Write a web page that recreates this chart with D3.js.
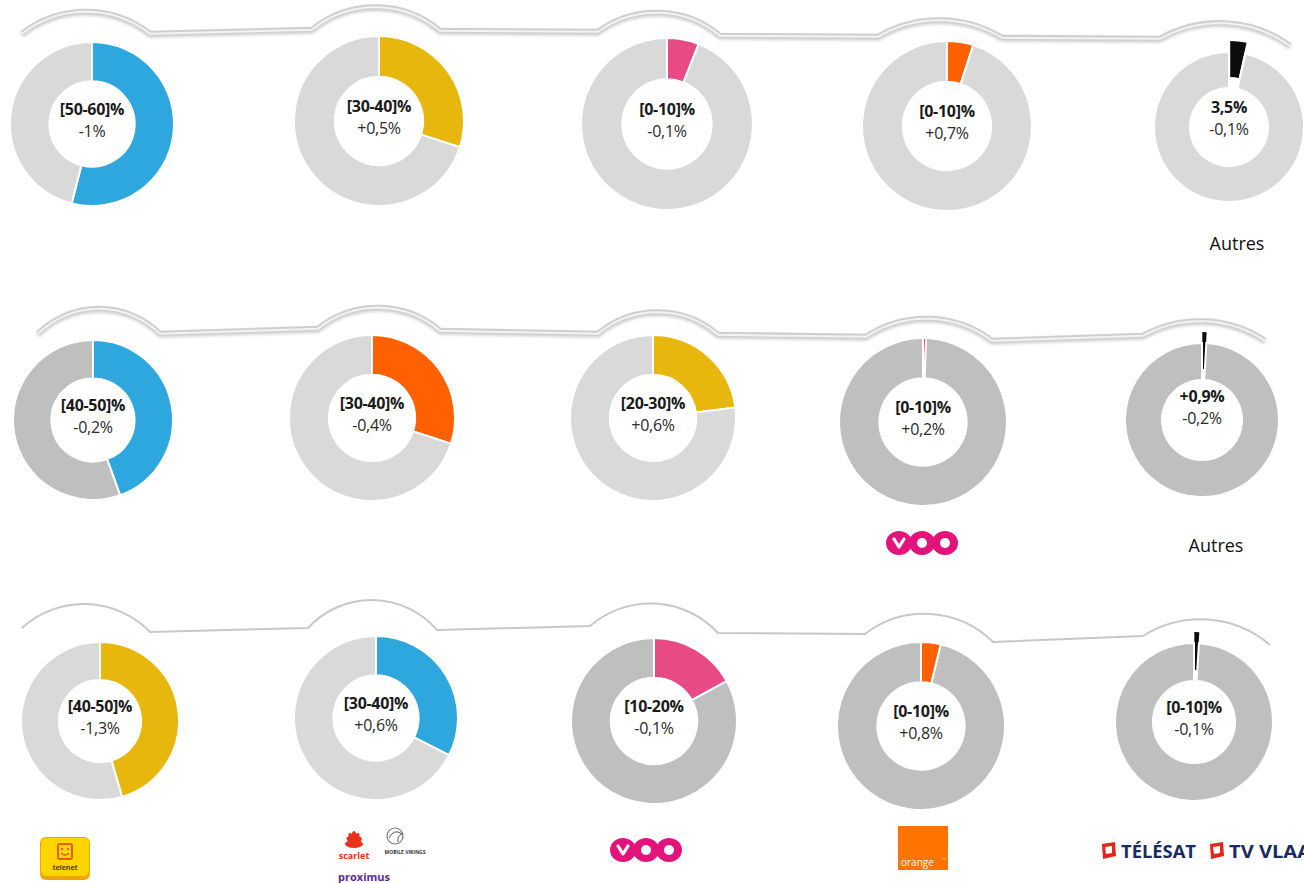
<!DOCTYPE html>
<html>
<head>
<meta charset="utf-8">
<script src="https://cdn.jsdelivr.net/npm/d3@7"></script>
<style>
  body { margin: 0; background: #fff; }
  svg { display: block; font-family: "Open Sans", "Noto Sans", sans-serif; }
</style>
</head>
<body>
<div id="chart-area"></div>
<script>
// market shares per row (5 operators per row)
const sharesRow1 = [54, 30, 6, 5, 3.5];
const sharesRow2 = [44.5, 30, 23, 0.6, 0.9];
const sharesRow3 = [45.5, 32.5, 17, 3.8, 1];

const shareLabels = [
  ['[50-60]%', '[30-40]%', '[0-10]%', '[0-10]%', '3,5%'],
  ['[40-50]%', '[30-40]%', '[20-30]%', '[0-10]%', '+0,9%'],
  ['[40-50]%', '[30-40]%', '[10-20%', '[0-10]%', '[0-10]%']
];
const changeLabels = [
  ['-1%', '+0,5%', '-0,1%', '+0,7%', '-0,1%'],
  ['-0,2%', '-0,4%', '+0,6%', '+0,2%', '-0,2%'],
  ['-1,3%', '+0,6%', '-0,1%', '+0,8%', '-0,1%']
];
const operatorKeys = [
  ['proximus', 'telenet', 'voo', 'orange', 'autres'],
  ['proximus', 'orange', 'telenet', 'voo', 'autres'],
  ['telenet', 'proximus', 'voo', 'orange', 'autres']
];
const restShade = [
  ['light', 'light', 'light', 'light', 'light'],
  ['dark', 'light', 'light', 'dark', 'dark'],
  ['light', 'light', 'dark', 'dark', 'dark']
];

const shares = [sharesRow1, sharesRow2, sharesRow3];

const opColor = {
  telenet: '#e8b70e', proximus: '#2ea6de', voo: '#e84a86',
  orange: '#ff6000', autres: '#0d0d0d'
};
const shadeColor = { light: '#d9d9d9', dark: '#bfbfbf' };

// layout: donut centres and radii (cx, cy, r)
const centers = [
  [[92, 124, 82], [379, 121, 85], [667, 124, 86], [947, 126, 85], [1229, 127, 75]],
  [[93, 420, 80], [372, 418, 83], [653, 418, 83], [923, 422, 84], [1202, 420, 77]],
  [[100, 721, 79], [376, 718, 82], [654, 721, 83], [921, 726, 84], [1194, 722, 79]]
];
// decorative caps above each donut: x0, x1, yLeft, yRight, sagitta
const caps = [
  [[22, 150, 33, 33, 22], [312, 440, 29, 30, 23], [598, 720, 31, 35, 21], [878, 1002, 36, 37, 17], [1160, 1290, 38, 45, 19]],
  [[38, 160, 333, 333, 25], [318, 440, 328, 330, 22], [598, 718, 333, 334, 22], [866, 992, 336, 340, 20], [1143, 1265, 335, 340, 17]],
  [[22, 150, 628, 632, 26], [308, 437, 628, 630, 29], [590, 718, 626, 633, 26], [865, 993, 634, 642, 24], [1143, 1270, 636, 645, 21]]
];
const labelShift = [
  [0, 0, 0, 0, -5],
  [0, 0, 0, 0, -9],
  [0, 0, 0, 0, 0]
];

const W = 1304, H = 883;
const svg = d3.select('#chart-area').append('svg')
  .attr('width', W).attr('height', H);

const defs = svg.append('defs');
defs.append('filter').attr('id', 'shadow')
  .attr('x', '-10%').attr('y', '-50%').attr('width', '120%').attr('height', '200%')
  .append('feGaussianBlur').attr('stdDeviation', 1.6);

const pie = d3.pie().sort(null).value(d => d.v);

// caps and connectors
caps.forEach((row, ri) => {
  const g = svg.append('g');
  let path = '';
  row.forEach((c, i) => {
    const [x0, x1, yl, yr, s] = c;
    const chord = Math.hypot(x1 - x0, yr - yl);
    const R = (chord * chord / 4 + s * s) / (2 * s);
    path += (i > 0 ? 'L' : 'M') + x0 + ',' + yl;
    path += 'A' + R + ',' + R + ' 0 0 1 ' + x1 + ',' + yr;
  });
  if (ri < 2) {
    g.append('path').attr('d', path).attr('fill', 'none')
      .attr('stroke', '#9a9a9a').attr('stroke-width', 5)
      .attr('opacity', 0.5).attr('transform', 'translate(0,2)')
      .attr('filter', 'url(#shadow)');
    g.append('path').attr('d', path).attr('fill', 'none')
      .attr('stroke', '#cfcfcf').attr('stroke-width', 4.5);
    g.append('path').attr('d', path).attr('fill', 'none')
      .attr('stroke', '#f3f3f3').attr('stroke-width', 2)
      .attr('transform', 'translate(0,0.8)');
  } else {
    g.append('path').attr('d', path).attr('fill', 'none')
      .attr('stroke', '#c8c8c8').attr('stroke-width', 2);
  }
});

// donuts
shares.forEach((row, ri) => {
  row.forEach((v, ci) => {
    const [cx, cy, r] = centers[ri][ci];
    const key = operatorKeys[ri][ci];
    const data = [
      { v: v, color: opColor[key], main: true },
      { v: 100 - v, color: shadeColor[restShade[ri][ci]], main: false }
    ];
    const arc = d3.arc().innerRadius(r * 0.52).outerRadius(r);
    const g = svg.append('g').attr('transform', 'translate(' + cx + ',' + cy + ')');
    const explode = ci === 4 ? 11 : 0;

    g.selectAll('path')
      .data(pie(data))
      .enter()
      .append('path')
      .attr('d', arc)
      .attr('fill', d => d.data.color)
      .attr('stroke', '#fff')
      .attr('stroke-width', d => (d.data.main && explode) ? 0 : 2)
      .attr('transform', d => {
        if (!(d.data.main && explode)) return null;
        const a = (d.startAngle + d.endAngle) / 2;
        return 'translate(' + (Math.sin(a) * explode) + ',' + (-Math.cos(a) * explode) + ')';
      });

    const dy = labelShift[ri][ci];
    g.append('text')
      .attr('text-anchor', 'middle')
      .attr('y', -9 + dy)
      .attr('font-size', '16px')
      .attr('font-weight', 'bold')
      .attr('letter-spacing', '-0.3px')
      .attr('fill', '#1a1a1a')
      .text(shareLabels[ri][ci]);
    g.append('text')
      .attr('text-anchor', 'middle')
      .attr('y', 13 + dy)
      .attr('font-size', '16px')
      .attr('letter-spacing', '-0.3px')
      .attr('fill', '#2a2a2a')
      .text(changeLabels[ri][ci]);
  });
});

// "Autres" labels
svg.append('text').attr('x', 1237).attr('y', 250).attr('text-anchor', 'middle')
  .attr('font-size', '18px').attr('fill', '#111').text('Autres');
svg.append('text').attr('x', 1216).attr('y', 552).attr('text-anchor', 'middle')
  .attr('font-size', '18px').attr('fill', '#111').text('Autres');

// VOO logo
function vooLogo(x, y) {
  const g = svg.append('g').attr('transform', 'translate(' + x + ',' + y + ')');
  const mag = '#e2147c';
  [-23, 0, 23].forEach(dx => {
    g.append('ellipse').attr('cx', dx).attr('cy', 0).attr('rx', 13).attr('ry', 12).attr('fill', mag);
  });
  g.append('path').attr('d', 'M-28,-4 L-23,4 L-18,-4').attr('fill', 'none')
    .attr('stroke', '#fff').attr('stroke-width', 3.2)
    .attr('stroke-linejoin', 'round').attr('stroke-linecap', 'round');
  g.append('circle').attr('cx', 0).attr('cy', 0).attr('r', 5).attr('fill', '#fff');
  g.append('circle').attr('cx', 23).attr('cy', 0).attr('r', 5).attr('fill', '#fff');
}
vooLogo(922, 543);
vooLogo(646, 850);

// telenet logo
(function () {
  const g = svg.append('g').attr('transform', 'translate(40,837)');
  g.append('rect').attr('width', 50).attr('height', 43).attr('rx', 6)
    .attr('fill', '#f0a500');
  g.append('rect').attr('x', 1).attr('y', 1).attr('width', 48).attr('height', 38).attr('rx', 5)
    .attr('fill', '#ffd500');
  g.append('rect').attr('x', 18).attr('y', 7).attr('width', 14).attr('height', 15).attr('rx', 2)
    .attr('fill', 'none').attr('stroke', '#e65f00').attr('stroke-width', 2);
  g.append('circle').attr('cx', 22).attr('cy', 12).attr('r', 1.2).attr('fill', '#e65f00');
  g.append('circle').attr('cx', 28).attr('cy', 12).attr('r', 1.2).attr('fill', '#e65f00');
  g.append('path').attr('d', 'M21,16 Q25,20 29,16').attr('fill', 'none')
    .attr('stroke', '#e65f00').attr('stroke-width', 1.5);
  g.append('text').attr('x', 25).attr('y', 33).attr('text-anchor', 'middle')
    .attr('font-size', '7px').attr('font-weight', 'bold').attr('fill', '#5a3a00').text('telenet');
})();

// scarlet / mobile vikings / proximus
(function () {
  const g = svg.append('g').attr('transform', 'translate(340,826)');
  [[-50, 9], [-25, 11], [0, 12], [25, 11], [55, 9]].forEach(([ang, len]) => {
    g.append('ellipse').attr('cx', 0).attr('cy', -len / 2).attr('rx', 2.6).attr('ry', len / 2)
      .attr('fill', '#e8321c')
      .attr('transform', 'translate(14,17) rotate(' + ang + ')');
  });
  g.append('ellipse').attr('cx', 14).attr('cy', 18).attr('rx', 9).attr('ry', 4).attr('fill', '#e8321c');
  g.append('text').attr('x', 14).attr('y', 33).attr('text-anchor', 'middle')
    .attr('font-size', '9px').attr('font-weight', 'bold').attr('fill', '#e8321c').text('scarlet');
  g.append('circle').attr('cx', 55).attr('cy', 10).attr('r', 8)
    .attr('fill', 'none').attr('stroke', '#777').attr('stroke-width', 1.2);
  g.append('path').attr('d', 'M49,12 Q54,2 62,8 Q57,10 58,16').attr('fill', 'none')
    .attr('stroke', '#555').attr('stroke-width', 1);
  g.append('text').attr('x', 65).attr('y', 28).attr('text-anchor', 'middle')
    .attr('font-size', '5px').attr('font-weight', 'bold').attr('fill', '#333').text('MOBILE VIKINGS');
  g.append('text').attr('x', 24).attr('y', 55).attr('text-anchor', 'middle')
    .attr('font-size', '11px').attr('font-weight', 'bold').attr('fill', '#5b2c8e').text('proximus');
})();

// orange logo
(function () {
  const g = svg.append('g').attr('transform', 'translate(898,826)');
  g.append('rect').attr('width', 50).attr('height', 44).attr('fill', '#ff7300');
  g.append('text').attr('x', 3).attr('y', 40).attr('font-size', '10px')
    .attr('fill', '#fff').text('orange');
  g.append('text').attr('x', 45).attr('y', 35).attr('font-size', '4px')
    .attr('fill', '#fff').text('™');
})();

// Télésat / TV Vlaanderen
function tvLogo(x, label, len) {
  const g = svg.append('g').attr('transform', 'translate(' + x + ',842)');
  g.append('path').attr('d', 'M2,2 L15,0 L16,14 L3,17 Z').attr('fill', '#e3251b');
  g.append('path').attr('d', 'M5,5 L12,4 L12,11 L6,12 Z').attr('fill', '#fff');
  g.append('text').attr('x', 21).attr('y', 16).attr('font-size', '17px')
    .attr('font-weight', 'bold').attr('fill', '#1c2a63')
    .attr('textLength', len).attr('lengthAdjust', 'spacingAndGlyphs').text(label);
}
tvLogo(1100, 'TÉLÉSAT', 75);
tvLogo(1208, 'TV VLAA', 82);
</script>
</body>
</html>
